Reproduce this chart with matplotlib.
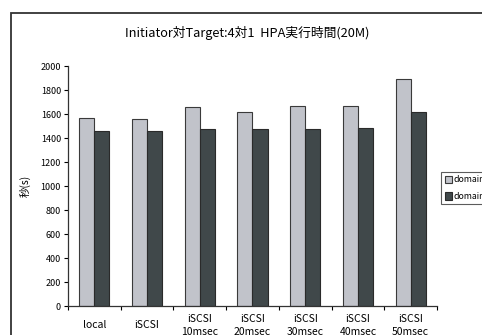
import matplotlib.pyplot as plt
import matplotlib.patches as mpatches
import numpy as np

plt.rcParams['font.family'] = ['Noto Sans CJK JP', 'DejaVu Sans']

# 計測結果
categories = ['local', 'iSCSI', 'iSCSI\n10msec', 'iSCSI\n20msec',
              'iSCSI\n30msec', 'iSCSI\n40msec', 'iSCSI\n50msec']
domain_u = [1565, 1555, 1660, 1615, 1665, 1665, 1895]
domain_0 = [1460, 1460, 1475, 1475, 1475, 1485, 1620]
series_names = ['domainU', 'domain0']
yticks = list(range(0, 2001, 200))

fig = plt.figure(figsize=(4.82, 3.35), dpi=100)

# 外枠
frame = mpatches.Rectangle((11 / 482, -0.1), 1.2, (335 - 13) / 335 + 0.1,
                           transform=fig.transFigure, fill=False,
                           edgecolor='#333333', linewidth=1.3)
fig.patches.append(frame)

ax = fig.add_axes([68 / 482, 29 / 335, (437 - 68) / 482, 240 / 335])

x = np.arange(len(categories))
w = 0.285
b1 = ax.bar(x - w / 2, domain_u, w, color='#c1c3ca', edgecolor='#3a3a3a', linewidth=0.8)
b2 = ax.bar(x + w / 2, domain_0, w, color='#40484a', edgecolor='#2a2a2a', linewidth=0.8)

ax.set_xlim(-0.5, len(categories) - 0.5)
ax.set_ylim(0, 2000)
ax.set_yticks(yticks)
ax.tick_params(axis='y', labelsize=6.5, length=3, width=0.8, pad=2)

ax.set_xticks(x)
ax.set_xticklabels(categories, fontsize=7.5, va='center', linespacing=1.45)
ax.tick_params(axis='x', which='major', length=0, pad=14)
ax.set_xticks(np.arange(-0.5, len(categories)), minor=True)
ax.tick_params(axis='x', which='minor', length=3, width=0.8)

for s in ['top', 'right']:
    ax.spines[s].set_visible(False)
for s in ['left', 'bottom']:
    ax.spines[s].set_linewidth(0.9)
    ax.spines[s].set_color('#333333')

ax.set_ylabel('秒(s)', fontsize=7.5, labelpad=7)
fig.text(247 / 482, (335 - 33) / 335, 'Initiator対Target:4対1  HPA実行時間(20M)',
         ha='center', va='center', fontsize=9.2)

leg = fig.legend([b1, b2], series_names, loc='upper left',
                 bbox_to_anchor=(441 / 482, (335 - 172) / 335),
                 fontsize=6.3, frameon=True, fancybox=False,
                 handlelength=0.8, handleheight=0.9, handletextpad=0.25,
                 borderpad=0.4, labelspacing=0.85, borderaxespad=0)
leg.get_frame().set_edgecolor('#333333')
leg.get_frame().set_linewidth(0.8)

fig.savefig('out.png', dpi=100)
